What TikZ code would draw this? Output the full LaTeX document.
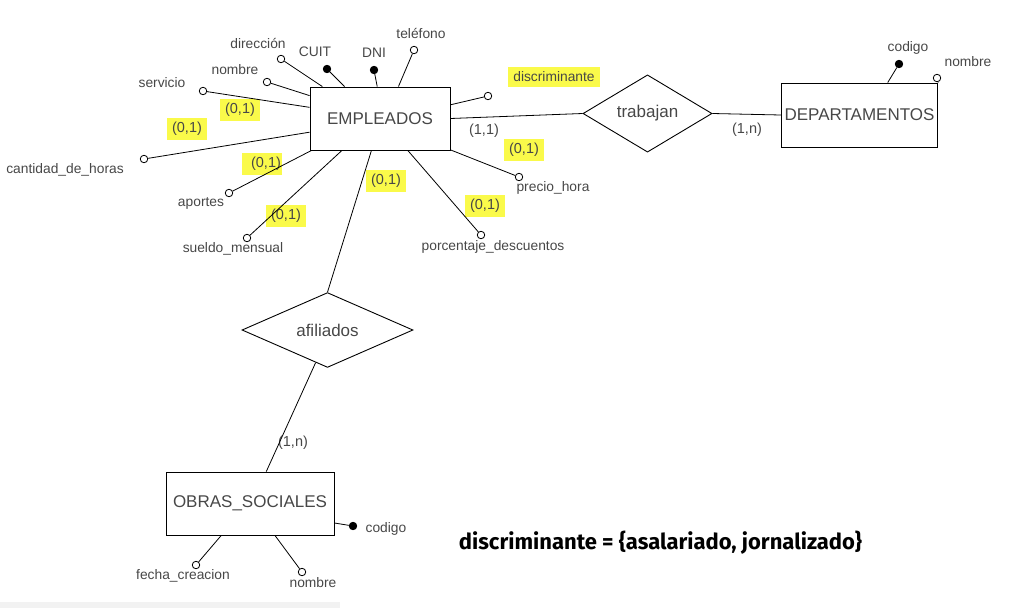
\documentclass[tikz,border=0pt]{standalone}
\usepackage{fontspec}
\setmainfont{Liberation Sans}
\newfontfamily\notefont{Fira Sans}
\usetikzlibrary{shapes.geometric,positioning}
\definecolor{ink}{HTML}{474747}
\definecolor{marker}{HTML}{FAFA4A}
\tikzset{
    x=1pt, y=-1pt,
    font=\fontsize{13.8}{16}\selectfont,
    entity/.style={rectangle,draw,line width=0.9pt,text=ink,font=\fontsize{17}{20}\selectfont},
    relation/.style={diamond,draw,line width=0.9pt,inner sep=0pt,text=ink,font=\fontsize{17}{20}\selectfont},
    attr/.style={circle,draw,fill=white,line width=0.8pt,inner sep=0pt,minimum size=7.5pt},
    key attr/.style={attr,fill=black},
    attr name/.style={text=ink,inner sep=1pt},
    card/.style={text=ink,font=\fontsize{14.5}{17}\selectfont,inner sep=1pt},
    marked/.style={card,fill=marker,minimum width=40pt,minimum height=22pt},
    link/.style={line width=0.8pt}
}
\begin{document}
\begin{tikzpicture}
    \useasboundingbox (0,0) rectangle (1016,608);
    \fill[black!5] (0,602) rectangle (340,608);
    % entities and relations
    \node[entity, minimum width=140pt, minimum height=63pt] (emp) at (380,118.5) {EMPLEADOS};
    \node[entity, minimum width=155pt, minimum height=64pt] (dep) at (859.5,115) {DEPARTAMENTOS};
    \node[entity, minimum width=168pt, minimum height=63pt] (obras) at (250,503.5) {OBRAS\_SOCIALES};
    \node[relation, minimum width=129pt, minimum height=63pt] (trab) at (647.5,113.5) {trabajan};
    \node[relation, minimum width=171pt, minimum height=64pt] (afil) at (327.5,330) {afiliados};
    % attributes of EMPLEADOS
    \node[attr] (dir) at (281,59) {};
    \node[key attr] (cuit) at (327,69) {};
    \node[key attr] (dni) at (374,70) {};
    \node[attr] (tel) at (414,50) {};
    \node[attr] (nom) at (267,82) {};
    \node[attr] (serv) at (203,91) {};
    \node[attr] (cant) at (144,159) {};
    \node[attr] (apor) at (229,193) {};
    \node[attr] (sueldo) at (247,238) {};
    \node[attr] (porc) at (481,235) {};
    \node[attr] (precio) at (519,177) {};
    \node[attr] (discr) at (488,96) {};
    \node[attr name] (dir a) at (258,43) {dirección};
    \node[attr name] (cuit a) at (315,52) {CUIT};
    \node[attr name] (dni a) at (374,53) {DNI};
    \node[attr name] (tel a) at (421,33) {teléfono};
    \node[attr name] (nom a) at (235,70) {nombre};
    \node[attr name] (serv a) at (162,83) {servicio};
    \node[attr name] (cant a) at (65,170) {cantidad\_de\_horas};
    \node[attr name] (apor a) at (201,203) {aportes};
    \node[attr name] (sueldo a) at (233,249) {sueldo\_mensual};
    \node[attr name] (porc a) at (493,247) {porcentaje\_descuentos};
    \node[attr name] (precio a) at (553,188) {precio\_hora};
    \node[attr name, fill=marker, inner sep=5pt] (discr a) at (554,77) {discriminante};
    % attributes of DEPARTAMENTOS
    \node[key attr] (dcod) at (899,64) {};
    \node[attr] (dnom) at (937,78) {};
    \node[attr name] (dcod a) at (908,48) {codigo};
    \node[attr name] (dnom a) at (968,62) {nombre};
    % attributes of OBRAS_SOCIALES
    \node[key attr] (ocod) at (353,526) {};
    \node[attr] (fecha) at (196,565) {};
    \node[attr] (onom) at (302,572) {};
    \node[attr name] (ocod a) at (386,529) {codigo};
    \node[attr name] (fecha a) at (183,576) {fecha\_creacion};
    \node[attr name] (onom a) at (313,583) {nombre};
    % cardinalities
    \node[marked] (c serv) at (240,110) {(0,1)};
    \node[marked] (c cant) at (187,129) {(0,1)};
    \node[marked] (c apor) at (262,164) {\hspace{8pt}(0,1)};
    \node[marked] (c sueldo) at (286,216) {(0,1)};
    \node[marked] (c afil) at (386,181) {(0,1)};
    \node[marked] (c porc) at (485,206) {(0,1)};
    \node[marked] (c precio) at (524,150) {(0,1)};
    \node[card] (c emp) at (484,131) {(1,1)};
    \node[card] (c dep) at (747,130) {(1,n)};
    \node[card] (c obras) at (293,443) {(1,n)};
    \path[link]
        (emp.151) edge (dir)
        (emp.138) edge (cuit)
        (emp.95) edge (dni)
        (emp.60) edge (tel)
        (emp.162) edge (nom)
        (emp.171.5) edge (serv)
        (emp.191) edge (cant)
        (emp.205) edge (apor)
        (emp.220) edge (sueldo)
        (emp.311.6) edge (porc)
        (emp.336.5) edge (precio)
        (emp.11.7) edge (discr)
        (dep.49) edge (dcod)
        (dep.north east) edge (dnom)
        (obras.347.6) edge (ocod)
        (obras.228.4) edge (fecha)
        (obras.308.4) edge (onom)
        (emp.east) edge (trab.west)
        (trab.east) edge (dep.west)
        (emp.255.7) edge (afil.north)
        (afil.250) edge (obras.63)
        ;
    \node[font=\notefont\bfseries\fontsize{22}{26}\selectfont, inner sep=0pt] (note) at (660.5,543) {discriminante = \{asalariado, jornalizado\}};
\end{tikzpicture}
\end{document}
